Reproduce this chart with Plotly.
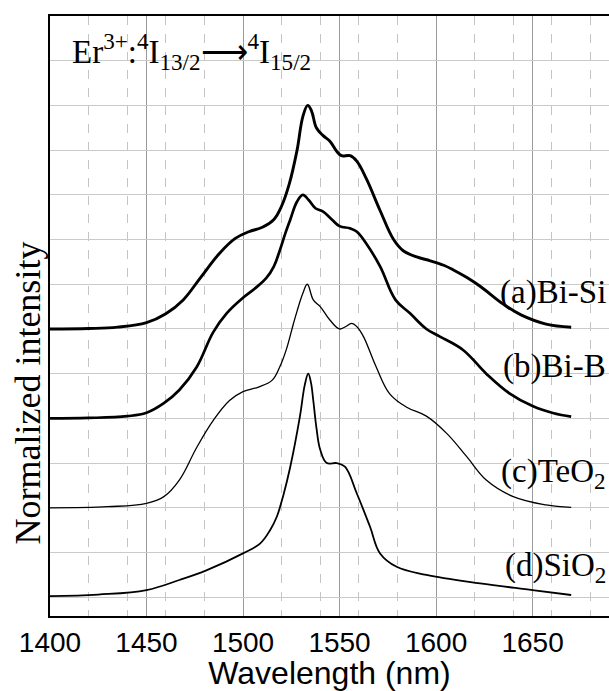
import plotly.graph_objects as go

# ---------------- data ----------------
# normalized intensities (peak = 1) ; curves are stacked with offsets
wl_a = [1400, 1420, 1435, 1450, 1460, 1469, 1478, 1488, 1496, 1503, 1510, 1516, 1520, 1524,
        1528, 1531, 1533.5, 1535.5, 1538, 1541.5, 1545, 1548.5, 1551, 1555.5, 1559, 1564,
        1571, 1578, 1583, 1590, 1597, 1604, 1609, 1616, 1623, 1635, 1644, 1657, 1670]
int_a = [0.000, 0.002, 0.008, 0.028, 0.068, 0.130, 0.230, 0.340, 0.405, 0.435, 0.455, 0.490,
         0.550, 0.650, 0.800, 0.950, 1.000, 0.975, 0.900, 0.865, 0.840, 0.795, 0.775, 0.775,
         0.750, 0.670, 0.530, 0.400, 0.350, 0.322, 0.305, 0.285, 0.264, 0.230, 0.190, 0.110,
         0.063, 0.022, 0.008]

wl_b = [1400, 1420, 1440, 1450, 1459, 1467, 1476, 1484.5, 1491.5, 1500, 1506, 1512, 1516,
        1519, 1522, 1524.5, 1528, 1531, 1534, 1537.5, 1541.5, 1546, 1550, 1555.5, 1559, 1564,
        1571, 1579, 1586.5, 1595, 1602, 1614, 1626, 1638, 1650, 1661, 1670]
int_b = [0.000, 0.002, 0.010, 0.025, 0.068, 0.127, 0.230, 0.385, 0.470, 0.540, 0.580, 0.627,
         0.680, 0.750, 0.830, 0.890, 0.970, 1.000, 0.977, 0.940, 0.925, 0.890, 0.860, 0.850,
         0.835, 0.780, 0.680, 0.530, 0.470, 0.400, 0.366, 0.306, 0.200, 0.112, 0.055, 0.023,
         0.008]

wl_c = [1400, 1430, 1450, 1459, 1467, 1476, 1484.5, 1493, 1500, 1508, 1515, 1519, 1522.5,
        1526, 1528, 1531, 1533.3, 1536.4, 1540, 1545, 1550, 1553, 1556.3, 1559, 1562.4, 1569,
        1576, 1584.8, 1595, 1605.5, 1615.8, 1626, 1640, 1657, 1670]
int_c = [0.000, 0.005, 0.020, 0.050, 0.124, 0.270, 0.390, 0.480, 0.520, 0.540, 0.570, 0.630,
         0.710, 0.820, 0.880, 0.960, 1.000, 0.930, 0.900, 0.840, 0.800, 0.810, 0.825, 0.810,
         0.766, 0.630, 0.510, 0.450, 0.410, 0.333, 0.230, 0.124, 0.050, 0.013, 0.002]

wl_d = [1400, 1425, 1450, 1467, 1481, 1500, 1508.8, 1514, 1517.5, 1521, 1524.4, 1529.5, 1532,
        1533.8, 1535.2, 1536.4, 1538, 1540, 1543.4, 1548.5, 1552.8, 1558.9, 1565.8, 1571,
        1579.6, 1595, 1622.8, 1650, 1670]
int_d = [0.005, 0.012, 0.032, 0.077, 0.120, 0.196, 0.240, 0.300, 0.360, 0.460, 0.580, 0.810,
         0.950, 1.000, 0.960, 0.880, 0.760, 0.660, 0.600, 0.600, 0.584, 0.465, 0.315, 0.196,
         0.136, 0.100, 0.062, 0.032, 0.010]

labels = ["(a)Bi-Si", "(b)Bi-B", "(c)TeO<sub>2</sub>", "(d)SiO<sub>2</sub>"]
offsets = [1.2, 0.8, 0.4, 0.0]
x_ticks = [1400, 1450, 1500, 1550, 1600, 1650]

# ---------------- figure ----------------
series = [(wl_a, int_a), (wl_b, int_b), (wl_c, int_c), (wl_d, int_d)]
widths = [2.9, 2.7, 1.3, 1.8]
label_y = [1.361, 1.030, 0.555, 0.132]

fig = go.Figure()
for (wl, iv), off, w in zip(series, offsets, widths):
    fig.add_trace(go.Scatter(
        x=wl, y=[off + v for v in iv], mode="lines",
        line=dict(color="black", width=w, shape="spline", smoothing=1.1),
        showlegend=False, hoverinfo="skip"))

serif = "Liberation Serif"
sans = "Liberation Sans"

for lab, ly in zip(labels, label_y):
    fig.add_annotation(x=1689, y=ly, xref="x", yref="y", text=lab, showarrow=False,
                       xanchor="right", yanchor="middle",
                       font=dict(family=serif, size=33, color="black"))

fig.add_annotation(x=1410.5, y=2.44, xref="x", yref="y",
                   text="Er<sup>3+</sup>:<sup>4</sup>I<sub>13/2</sub>\u27f6<sup>4</sup>I<sub>15/2</sub>",
                   showarrow=False, xanchor="left", yanchor="middle",
                   font=dict(family=serif, size=33, color="black"))

fig.add_annotation(x=-0.040, y=0.914, xref="paper", yref="y", text="Normalized intensity",
                   showarrow=False, textangle=-90, xanchor="center", yanchor="middle",
                   font=dict(family=serif, size=36, color="black"))

fig.update_layout(
    width=609, height=691,
    margin=dict(l=50, r=0, t=16, b=75),
    paper_bgcolor="white", plot_bgcolor="white",
    xaxis=dict(range=[1400, 1689.6], tickvals=x_ticks, ticks="",
               showgrid=True, gridcolor="#9a9a9a", gridwidth=1,
               minor=dict(dtick=20, tick0=1400, showgrid=True, gridcolor="#c4c4c4",
                          griddash="dash", gridwidth=1),
               showline=True, linecolor="black", linewidth=2, mirror=True,
               zeroline=False, ticklabelstandoff=0,
               tickfont=dict(family=sans, size=28, color="black"),
               title=dict(text="Wavelength (nm)", standoff=0,
                          font=dict(family=sans, size=32, color="black"))),
    yaxis=dict(range=[-0.084, 2.6], dtick=0.2, tick0=0, showticklabels=False, ticks="",
               showgrid=True, gridcolor="#cacaca", gridwidth=1, zeroline=False,
               showline=True, linecolor="black", linewidth=2, mirror=False),
)

fig.write_html("out.html")
